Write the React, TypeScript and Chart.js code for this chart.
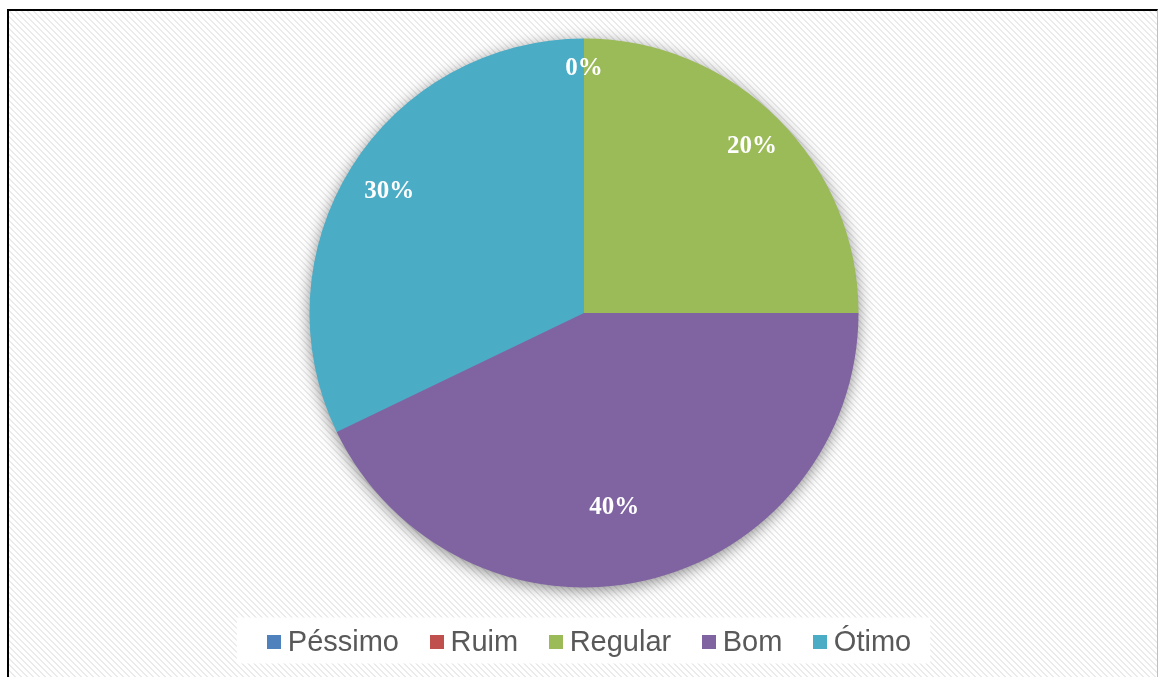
import React, { useEffect, useRef } from "react";
import { Chart, registerables } from "chart.js";

Chart.register(...registerables);

const categories = ["Péssimo", "Ruim", "Regular", "Bom", "Ótimo"];
const sliceValues = [0, 0, 7, 12, 9];
const labelTexts = ["0%", "0%", "20%", "40%", "30%"];
const sliceColors = ["#4F81BD", "#C0504D", "#9BBB59", "#8064A2", "#4BACC6"];
const labelRadius = [0.895, 0.895, 0.865, 0.715, 0.838];
const labelAngleShiftDeg = [0, 0, 0, 4, 0];

const LEGEND_FONT = "29px 'Liberation Sans', Arial, sans-serif";

function legendLayout(chart: any) {
  const ctx = chart.ctx;
  ctx.save();
  ctx.font = LEGEND_FONT;
  const box = 14;
  const inner = 7;
  const gap = 30.5;
  const widths = categories.map((c) => box + inner + ctx.measureText(c).width);
  ctx.restore();
  const total = widths.reduce((a, b) => a + b, 0) + gap * (widths.length - 1);
  const centerX = (chart.chartArea.left + chart.chartArea.right) / 2 + 5;
  const startX = centerX - total / 2;
  const items: { x: number; w: number }[] = [];
  let x = startX;
  widths.forEach((w) => {
    items.push({ x, w });
    x += w + gap;
  });
  const midY = chart.chartArea.bottom + 36;
  return { items, startX, endX: startX + total, midY, box, inner };
}

const bgPlugin = {
  id: "bgHatch",
  beforeDraw(chart: any) {
    const { ctx, width, height } = chart;
    const tile = document.createElement("canvas");
    tile.width = 6;
    tile.height = 6;
    const t = tile.getContext("2d")!;
    t.fillStyle = "#ffffff";
    t.fillRect(0, 0, 6, 6);
    t.fillStyle = "#ebebeb";
    for (let i = 0; i < 6; i++) {
      t.fillRect(i, i, 1, 1);
      t.fillRect((i + 1) % 6, i, 1, 1);
    }
    const pat = ctx.createPattern(tile, "repeat");
    ctx.save();
    ctx.fillStyle = pat;
    ctx.fillRect(0, 0, width, height);
    ctx.restore();
  },
};

const legendPlugin = {
  id: "customLegend",
  afterDraw(chart: any) {
    const ctx = chart.ctx;
    const L = legendLayout(chart);
    ctx.save();
    ctx.fillStyle = "#ffffff";
    ctx.fillRect(L.startX - 30, L.midY - 23, L.endX - L.startX + 49, 46);
    ctx.font = LEGEND_FONT;
    ctx.textAlign = "left";
    ctx.textBaseline = "alphabetic";
    L.items.forEach((it, i) => {
      ctx.fillStyle = sliceColors[i];
      ctx.fillRect(Math.round(it.x), Math.round(L.midY - L.box / 2 + 1), L.box, L.box);
      ctx.fillStyle = "#595959";
      ctx.fillText(categories[i], it.x + L.box + L.inner, L.midY + 10.5);
    });
    ctx.restore();
  },
};

const shadowPlugin = {
  id: "pieShadow",
  beforeDatasetsDraw(chart: any) {
    const meta = chart.getDatasetMeta(0);
    if (!meta.data.length) return;
    const { x, y, outerRadius } = meta.data[0].getProps(["x", "y", "outerRadius"], true);
    const ctx = chart.ctx;
    ctx.save();
    ctx.shadowColor = "rgba(0,0,0,0.5)";
    ctx.shadowBlur = 16;
    ctx.shadowOffsetY = 3;
    ctx.beginPath();
    ctx.arc(x, y, outerRadius - 1, 0, Math.PI * 2);
    ctx.fillStyle = "#8064A2";
    ctx.fill();
    ctx.restore();
  },
};

const labelPlugin = {
  id: "sliceLabels",
  afterDatasetsDraw(chart: any) {
    const meta = chart.getDatasetMeta(0);
    const ctx = chart.ctx;
    ctx.save();
    ctx.font = "bold 25px 'Liberation Serif', serif";
    ctx.fillStyle = "#ffffff";
    ctx.textAlign = "center";
    ctx.textBaseline = "middle";
    const seen = new Set<string>();
    meta.data.forEach((el: any, i: number) => {
      const { x, y, startAngle, endAngle, outerRadius } = el.getProps(
        ["x", "y", "startAngle", "endAngle", "outerRadius"],
        true
      );
      const mid = (startAngle + endAngle) / 2 + (labelAngleShiftDeg[i] * Math.PI) / 180;
      const r = outerRadius * labelRadius[i];
      const lx = x + Math.cos(mid) * r;
      const ly = y + Math.sin(mid) * r;
      const key = labelTexts[i] + "|" + Math.round(lx) + "," + Math.round(ly);
      if (seen.has(key)) return;
      seen.add(key);
      ctx.fillText(labelTexts[i], lx, ly + 1);
    });
    ctx.restore();
  },
};

export default function App() {
  const ref = useRef<HTMLCanvasElement | null>(null);

  useEffect(() => {
    if (!ref.current) return;
    const chart = new Chart(ref.current, {
      type: "pie",
      data: {
        labels: categories,
        datasets: [
          {
            data: sliceValues,
            backgroundColor: sliceColors,
            borderWidth: 0,
          },
        ],
      },
      options: {
        responsive: false,
        animation: false,
        radius: 274.5,
        layout: { padding: { top: 10.5, bottom: 72.5, left: 2, right: 0 } },
        plugins: {
          tooltip: { enabled: false },
          legend: { display: false },
        },
      } as any,
      plugins: [bgPlugin, shadowPlugin, labelPlugin, legendPlugin],
    });
    return () => chart.destroy();
  }, []);

  return (
    <div
      style={{
        position: "absolute",
        left: 7,
        top: 9,
        width: 1148,
        height: 666,
        borderLeft: "2px solid #000",
        borderTop: "2px solid #000",
        borderRight: "1px solid #bfbfbf",
        background: "#fff",
      }}
    >
      <canvas ref={ref} width={1148} height={666} style={{ display: "block" }} />
    </div>
  );
}
